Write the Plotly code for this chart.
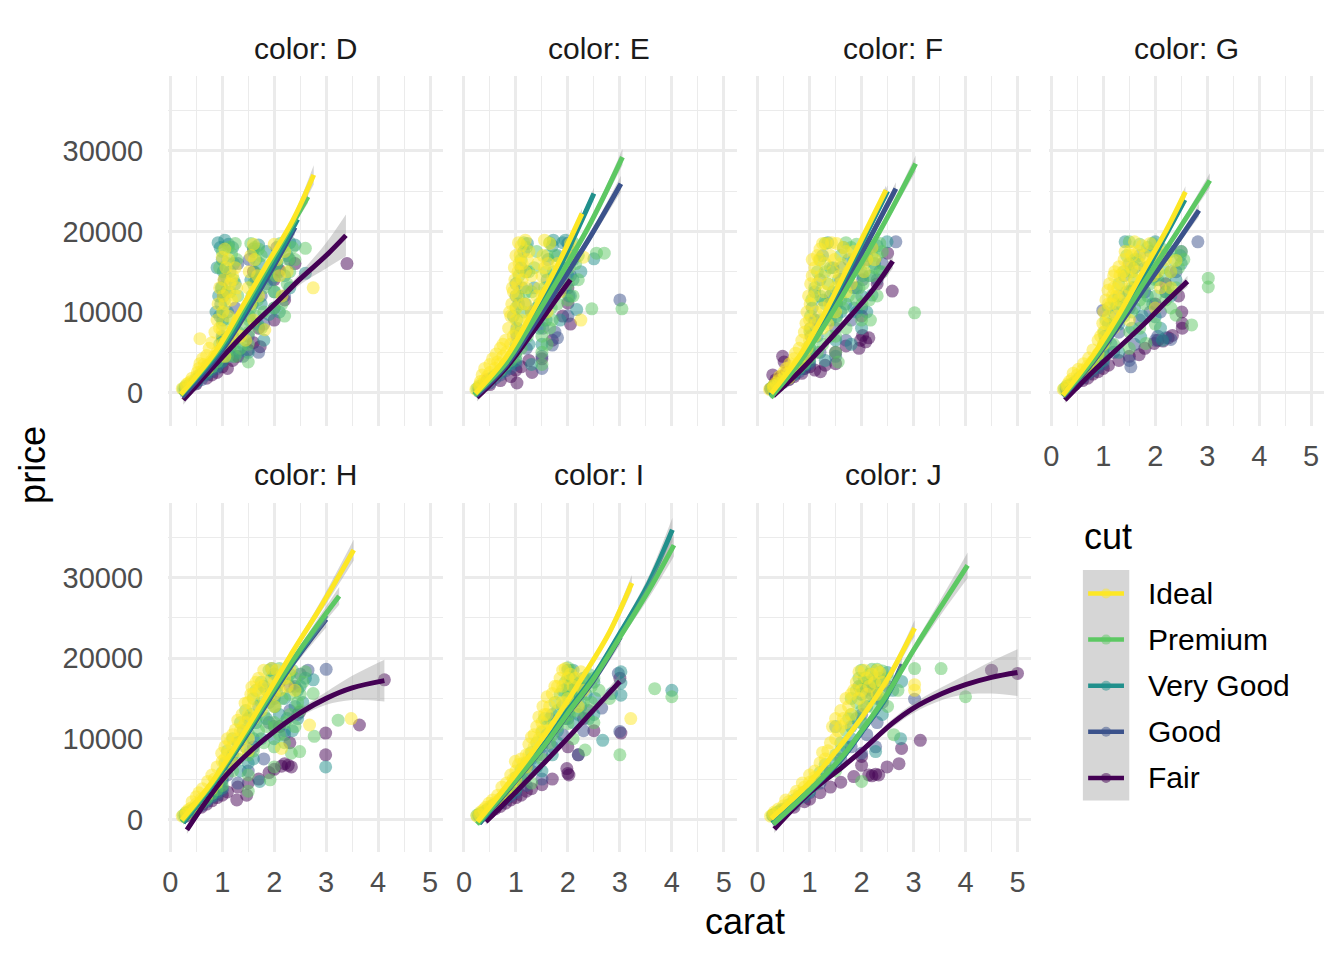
import plotly.graph_objects as go

# ---------------- categories / ticks ----------------
FACETS = ["D", "E", "F", "G", "H", "I", "J"]
CUTS = ["Fair", "Good", "Very Good", "Premium", "Ideal"]
LEGEND_ORDER = ["Ideal", "Premium", "Very Good", "Good", "Fair"]
CUT_COLORS = {"Fair": "#440154", "Good": "#3B528B", "Very Good": "#21908C",
              "Premium": "#5DC863", "Ideal": "#FDE725"}
X_TICKS = [0, 1, 2, 3, 4, 5]
X_MINOR = [0.5, 1.5, 2.5, 3.5, 4.5]
Y_TICKS = [0, 10000, 20000, 30000]
Y_MINOR = [5000, 15000, 25000, 35000]

# ---------------- points: (carat, price in $1000) ----------------
D_Ideal = [(0.23,0.5),(0.3,0.7),(0.31,1.0),(0.35,1.2),(0.4,1.4),(0.42,1.8),(0.5,2.0),(0.52,2.5),(0.55,3.0),(0.57,3.6),(0.57,6.7),(0.6,2.6),(0.62,4.2),(0.7,3.3),(0.7,4.6),(0.72,3.0),(0.75,5.5),(0.8,4.0),(0.8,6.2),(0.86,7.5),(0.9,5.0),(0.9,9.0),(0.92,11.0),(0.95,13.0),(1.0,6.0),(1.0,7.8),(1.01,10.0),(1.02,12.0),(1.03,14.0),(1.05,11.0),(1.07,15.5),(1.1,12.5),(1.12,9.5),(1.15,13.5),(1.18,11.5),(1.2,14.5),(1.22,8.0),(1.25,12.0),(1.0,16.8),(1.05,17.8),(1.5,13.0),(1.52,15.0),(1.55,17.0),(1.6,18.4),(1.55,11.0),(1.6,9.0),(1.82,7.8),(2.0,18.4),(2.05,16.5),(2.1,14.5),(2.2,17.5),(2.75,13.0),
            (1.12,16.5),(1.18,14.0),(1.25,15.5),(0.95,8.0),(1.08,6.5),(1.3,9.0),(1.35,7.0),(1.62,12.5),(1.68,14.5),(0.65,3.5),(0.85,4.5),(1.15,7.0),(2.15,12.0),
            (1.28,13.0),(1.62,16.5),(1.7,12.0),(2.25,15.0),(1.45,6.5),(1.05,4.5)]
D_Premium = [(0.25,0.5),(0.3,0.8),(0.38,1.0),(0.45,1.3),(0.5,1.7),(0.55,2.1),(0.6,2.3),(0.7,2.7),(0.72,3.4),(0.8,3.2),(0.9,3.8),(0.9,4.6),(1.0,4.5),(1.0,5.5),(1.01,6.8),(1.0,8.5),(1.02,10.0),(1.04,11.5),(1.0,13.0),(1.06,14.5),(1.1,16.0),(1.0,17.5),(1.12,18.0),(1.2,6.0),(1.2,9.0),(1.25,4.5),(1.5,3.8),(1.5,6.0),(1.51,7.5),(1.52,9.0),(1.55,10.5),(1.57,12.0),(1.6,13.5),(1.62,15.0),(1.65,16.5),(1.7,17.8),(1.55,18.5),(1.75,8.0),(1.8,10.0),(2.0,10.5),(2.01,12.5),(2.02,14.5),(2.05,16.0),(2.1,17.5),(2.2,18.3),(2.3,15.0),(2.35,18.0),(2.6,17.9),
              (1.15,12.5),(1.22,14.0),(1.28,16.5),(1.18,17.2),(0.95,6.0),(1.1,4.5),(1.3,7.5),(1.35,5.5),(1.65,9.5),(1.68,11.5),(1.72,14.5),(1.62,18.0),(2.15,11.0),(2.25,13.5),(2.28,16.5),(2.12,18.5),
              (1.3,12.0),(1.4,8.5),(1.75,17.0),(1.8,13.0),(1.9,15.0),(2.2,9.5),(2.4,16.5),(1.25,18.5),(0.95,15.5)]
D_VeryGood = [(0.28,0.5),(0.32,0.7),(0.4,0.9),(0.5,1.4),(0.55,1.8),(0.62,2.2),(0.7,2.4),(0.78,2.9),(0.9,3.3),(0.92,18.6),(1.0,3.9),(1.0,5.0),(1.0,7.0),(1.01,9.0),(0.97,11.0),(0.98,13.0),(1.02,15.0),(1.0,16.5),(0.96,18.0),(1.05,18.9),(1.12,18.4),(1.2,18.0),(1.1,10.0),(1.3,5.0),(1.5,5.0),(1.52,9.5),(1.58,11.0),(1.55,14.0),(1.6,17.5),(1.7,18.3),(1.8,6.5),(1.9,9.7),(2.0,12.5),(2.05,16.0),(2.15,18.0),(2.4,18.3),(2.6,14.8),(2.3,13.0),
               (0.9,15.5),(0.93,12.0),(1.08,12.5),(1.15,15.0),(1.22,16.0),(0.88,10.0),(1.65,12.5),(1.72,16.0),(1.68,8.5),(2.1,10.0),(2.2,14.5),(2.25,17.0),(1.2,4.5),(1.4,6.0),
               (1.25,13.5),(1.75,11.0),(1.85,17.5),(2.3,18.6),(1.95,14.0),(0.95,9.5)]
D_Good = [(0.3,0.5),(0.42,0.9),(0.5,1.2),(0.6,1.6),(0.7,2.2),(0.8,2.6),(0.9,3.0),(1.0,3.8),(1.0,6.5),(1.02,12.0),(1.04,14.0),(1.15,5.5),(1.2,7.0),(1.4,4.5),(1.5,7.0),(1.52,16.5),(1.6,17.8),(1.7,5.0),(1.75,12.0),(1.8,8.5),(2.0,10.5),(2.1,15.0),(2.2,12.0),(2.05,18.0),(2.3,16.5),
          (1.3,16.0),(1.85,13.5),(1.25,10.5),(1.65,14.0)]
D_Fair = [(0.3,0.5),(0.5,1.1),(0.7,1.8),(0.8,2.2),(0.9,2.5),(1.0,3.2),(1.0,5.5),(1.1,3.0),(1.2,4.0),(1.3,4.5),(1.5,5.3),(1.6,6.2),(1.73,5.7),(1.7,8.0),(2.0,9.0),(2.0,14.0),(2.1,15.2),(2.4,16.0),(3.4,16.0),(1.6,15.0),(2.2,11.5)]

E_Ideal = [(0.23,0.4),(0.3,0.7),(0.3,1.0),(0.32,1.4),(0.35,2.2),(0.4,1.6),(0.4,3.0),(0.45,2.0),(0.5,2.5),(0.5,3.5),(0.55,4.2),(0.6,3.0),(0.62,4.8),(0.7,3.6),(0.7,5.5),(0.75,4.5),(0.8,6.5),(0.82,5.0),(0.86,8.0),(0.9,6.0),(0.9,9.5),(0.92,11.0),(0.95,12.5),(0.98,14.0),(1.0,7.5),(1.0,9.0),(1.01,10.5),(1.02,12.0),(1.03,13.5),(1.04,15.0),(1.06,16.0),(1.08,17.0),(1.1,18.2),(1.18,18.9),(1.12,14.0),(1.15,11.0),(1.2,13.0),(1.22,16.5),(1.25,9.0),(1.3,10.0),(1.5,12.0),(1.5,14.5),(1.52,17.0),(1.55,18.9),(1.6,10.0),(1.62,16.0),(2.0,17.0),(2.05,18.5),(2.3,16.8),(2.25,9.0),(1.1,7.5),
            (0.88,10.0),(0.93,13.0),(0.97,15.5),(1.0,17.0),(1.05,18.6),(1.12,16.0),(1.18,15.0),(1.2,11.0),(1.1,9.0),(0.95,7.0),(1.45,13.0),(1.55,15.5),(1.6,12.5),(1.48,11.0),(1.7,14.0),(0.65,3.8),(0.75,6.0),
            (1.25,17.5),(1.3,14.5),(1.4,12.0),(1.42,16.0),(1.65,18.5),(1.8,16.0),(1.85,12.5)]
E_Premium = [(0.25,0.5),(0.3,0.8),(0.4,1.2),(0.5,1.6),(0.6,2.2),(0.7,2.8),(0.8,3.5),(0.9,4.0),(1.0,4.5),(1.0,6.0),(1.01,7.5),(1.02,9.0),(1.0,10.5),(1.05,12.0),(1.06,14.5),(1.1,16.5),(1.2,18.0),(1.22,7.0),(1.3,12.5),(1.5,5.0),(1.5,7.0),(1.51,9.0),(1.52,11.0),(1.55,13.0),(1.58,15.0),(1.6,17.0),(1.65,18.6),(1.7,9.0),(1.72,12.5),(2.0,11.5),(2.01,13.5),(2.03,15.5),(2.05,17.5),(2.1,18.6),(2.2,14.0),(2.55,17.3),(2.7,17.3),(2.46,10.4),(3.04,10.4),(1.5,3.5),
              (1.15,10.0),(1.2,12.5),(1.25,15.0),(1.15,18.6),(1.1,5.5),(1.6,6.0),(1.65,8.0),(1.68,10.5),(1.72,15.0),(1.75,17.0),(2.1,12.0),(2.15,16.0),(1.35,9.5),
              (1.35,15.5),(1.4,17.5),(1.45,11.0),(1.8,11.0),(1.85,14.5),(1.95,16.5),(2.2,17.0),(1.28,8.0)]
E_VeryGood = [(0.28,0.5),(0.35,0.9),(0.45,1.3),(0.55,1.9),(0.7,2.5),(0.8,3.0),(0.9,3.6),(1.0,4.0),(1.0,5.5),(1.02,8.0),(1.05,11.0),(1.0,13.5),(1.1,15.5),(1.15,17.5),(1.2,15.0),(1.25,6.0),(1.5,6.0),(1.52,10.0),(1.55,12.0),(1.6,14.0),(1.62,16.5),(1.7,18.2),(1.72,18.9),(1.9,18.6),(1.95,18.9),(2.0,14.5),(1.95,13.0),(2.1,16.5),(2.5,16.6),(2.17,10.3),(1.3,3.5),
               (0.95,9.5),(1.0,12.0),(1.12,13.0),(1.18,11.0),(1.22,18.5),(1.45,8.0),(1.58,9.0),(1.68,12.0),(1.75,14.0),(2.05,12.0),(2.1,14.0),
               (1.35,13.0),(1.4,10.5),(1.8,17.0),(1.85,9.0),(2.25,15.0)]
E_Good = [(0.3,0.5),(0.4,0.9),(0.5,1.2),(0.6,1.8),(0.7,2.2),(0.8,2.7),(0.9,3.0),(1.0,3.5),(1.0,5.0),(1.02,7.0),(1.2,5.5),(1.5,3.0),(1.5,4.5),(1.52,8.0),(1.55,10.5),(1.7,5.9),(1.75,7.5),(2.0,9.5),(2.02,12.0),(2.05,14.5),(2.1,17.0),(2.0,18.5),(3.0,11.5),(1.8,6.8),
          (1.3,10.0),(1.6,12.5),(1.9,15.5)]
E_Fair = [(0.3,0.4),(0.45,1.6),(0.5,1.0),(0.7,1.5),(0.9,2.0),(1.02,1.2),(1.0,2.8),(1.1,3.2),(1.31,2.5),(1.25,4.0),(1.5,4.2),(1.7,6.5),(2.0,11.1),(2.05,8.5),(1.9,9.5),(2.0,13.0)]

F_Ideal = [(0.23,0.4),(0.3,0.6),(0.31,0.9),(0.35,1.2),(0.4,1.5),(0.42,2.0),(0.5,1.8),(0.5,2.5),(0.55,3.0),(0.6,2.5),(0.62,3.6),(0.7,3.0),(0.7,4.2),(0.73,4.9),(0.8,3.8),(0.8,5.5),(0.85,6.5),(0.9,4.5),(0.9,7.5),(0.93,8.6),(0.95,10.0),(0.98,12.0),(1.0,6.5),(1.0,9.0),(1.01,11.0),(1.02,13.5),(1.05,14.5),(1.08,12.0),(1.1,15.5),(1.12,10.0),(1.15,13.5),(1.18,16.5),(1.2,17.8),(1.25,18.5),(1.22,14.5),(1.28,12.5),(1.3,16.0),(1.32,18.5),(1.4,17.0),(1.45,15.0),(1.5,10.0),(1.5,13.0),(1.52,18.5),(1.6,16.0),(1.7,17.5),(2.0,18.0),(2.1,16.5),(1.25,8.0),(1.1,7.0),(0.6,1.8),
           (1.15,17.0),(1.05,16.5),(1.12,8.5),(1.25,10.5),(1.35,13.5),(1.38,11.0),(1.42,18.6),(1.48,16.5),(1.55,12.0),(1.58,14.5),(1.65,18.0),(1.75,15.0),(1.85,17.5),(0.95,5.5),(0.65,3.2),(1.0,7.8),(1.9,16.0),(2.2,18.0),
           (1.6,13.5),(1.7,12.5),(1.95,17.0),(2.05,15.0),(1.35,8.5),(1.8,13.5),(2.25,16.5)]
F_Premium = [(0.25,0.5),(0.3,0.8),(0.4,1.1),(0.5,1.5),(0.6,2.0),(0.7,2.6),(0.8,3.1),(0.9,3.6),(1.0,4.3),(1.0,5.8),(1.01,7.5),(1.02,9.5),(1.04,11.5),(1.1,13.0),(1.15,15.0),(1.2,16.5),(1.3,18.5),(1.25,6.0),(1.2,9.0),(1.3,11.0),(1.5,5.0),(1.5,7.0),(1.51,9.0),(1.52,11.5),(1.55,14.0),(1.6,17.0),(1.7,18.6),(1.7,8.0),(1.75,12.0),(1.8,15.0),(1.9,18.4),(2.0,9.0),(2.01,11.0),(2.03,13.5),(2.05,16.0),(2.1,18.5),(2.2,14.5),(2.17,9.0),(2.3,17.0),(2.3,12.0),(3.02,9.9),(2.4,17.5),(1.55,3.8),
             (1.4,15.5),(1.35,13.5),(1.45,10.0),(1.4,7.0),(1.65,10.5),(1.7,14.0),(1.85,16.5),(1.95,13.0),(2.15,11.5),(2.25,15.5),(2.35,18.5),(1.2,12.0),(1.15,5.0),
             (1.45,12.5),(1.6,11.5),(1.9,11.5),(2.0,15.0),(2.2,17.0),(2.4,15.0),(1.3,15.0),(1.8,18.0)]
F_VeryGood = [(0.28,0.5),(0.35,0.9),(0.45,1.2),(0.55,1.8),(0.7,2.3),(0.8,2.9),(0.9,3.4),(1.0,3.9),(1.0,5.5),(1.02,8.0),(1.05,10.5),(1.1,12.5),(1.2,14.0),(1.25,17.0),(1.35,18.6),(1.5,6.5),(1.52,9.5),(1.55,12.5),(1.6,15.5),(1.65,18.0),(1.8,6.0),(1.9,10.0),(2.0,12.0),(2.02,14.5),(2.1,17.0),(2.2,12.1),(2.3,18.2),(2.49,18.7),(2.0,8.0),(1.3,4.0),
              (1.4,9.0),(1.45,15.5),(1.7,11.0),(1.75,16.5),(1.85,13.0),(2.1,10.0),(2.15,14.5),(2.25,16.0),(1.15,7.0),(1.25,11.5),
              (1.6,10.0),(1.95,16.0),(2.35,15.0),(1.4,12.0),(1.85,10.5)]
F_Good = [(0.3,0.5),(0.4,0.9),(0.5,1.3),(0.6,1.7),(0.7,2.2),(0.8,2.6),(0.9,3.0),(1.0,3.6),(1.0,5.0),(1.03,7.0),(1.1,9.0),(1.2,5.0),(1.5,4.5),(1.5,8.0),(1.52,11.0),(1.6,14.0),(1.7,6.5),(1.8,9.0),(2.0,10.5),(2.02,14.0),(2.1,16.5),(2.2,18.0),(2.66,18.7),(2.3,14.0),
          (1.4,11.0),(1.9,13.0),(2.4,16.0)]
F_Fair = [(0.25,0.5),(0.29,2.2),(0.33,1.0),(0.35,1.6),(0.4,1.2),(0.45,2.0),(0.48,4.5),(0.51,3.8),(0.55,2.5),(0.6,1.6),(0.7,2.0),(0.75,2.8),(0.85,2.4),(0.9,3.0),(1.0,3.2),(1.1,2.8),(1.21,2.6),(1.3,3.4),(1.5,3.6),(1.5,5.0),(1.7,5.8),(1.95,5.5),(1.98,6.5),(2.02,7.1),(2.08,6.3),(2.14,6.8),(2.0,9.5),(2.5,17.3),(2.59,12.6),(2.3,13.5)]

G_Ideal = [(0.23,0.4),(0.3,0.7),(0.31,1.0),(0.35,1.4),(0.4,1.7),(0.42,2.4),(0.5,2.2),(0.52,2.9),(0.6,2.8),(0.62,3.6),(0.7,3.3),(0.72,4.3),(0.8,3.9),(0.8,5.3),(0.9,4.8),(0.9,6.5),(0.99,8.6),(1.0,6.0),(1.0,7.5),(1.01,10.0),(1.05,11.5),(1.09,12.7),(1.1,9.5),(1.15,11.0),(1.2,13.0),(1.2,14.5),(1.25,12.0),(1.3,15.6),(1.3,10.5),(1.35,13.5),(1.4,16.5),(1.4,12.0),(1.45,14.5),(1.5,11.0),(1.5,13.0),(1.52,17.5),(1.55,15.5),(1.6,18.7),(1.6,12.5),(1.7,16.0),(1.75,18.2),(1.8,14.0),(2.0,17.0),(2.05,15.0),(2.2,16.5),(2.4,16.4),(2.3,13.0),(1.2,8.0),(1.5,9.0),(2.0,10.5),
           (1.12,13.5),(1.18,12.0),(1.22,15.0),(1.28,13.0),(1.32,14.5),(1.38,15.0),(1.42,17.5),(1.48,16.0),(1.55,17.0),(1.65,15.0),(1.68,17.5),(1.85,16.5),(1.9,18.5),(1.1,11.0),(0.95,7.0),(1.05,8.5),(1.25,9.5),(2.1,17.5),
           (1.3,11.5),(1.6,14.0),(1.95,14.5),(2.1,13.0),(2.3,15.0),(1.8,17.0)]
G_Premium = [(0.25,0.5),(0.3,0.8),(0.4,1.1),(0.5,1.6),(0.6,2.1),(0.7,2.7),(0.8,3.3),(0.9,3.9),(1.0,4.5),(1.0,5.8),(1.02,7.5),(1.05,9.0),(1.1,10.5),(1.2,6.0),(1.2,8.5),(1.25,11.0),(1.3,13.5),(1.4,15.0),(1.45,17.0),(1.5,18.7),(1.5,5.5),(1.51,7.5),(1.55,10.0),(1.6,14.0),(1.65,16.5),(1.7,8.0),(1.7,18.4),(1.8,11.0),(1.82,6.1),(1.9,13.5),(1.95,18.5),(2.0,8.5),(2.01,12.0),(2.05,16.0),(2.1,18.0),(2.2,14.5),(2.3,17.5),(2.4,9.6),(2.45,15.5),(2.55,16.5),(2.7,8.4),(3.02,14.2),(3.02,13.1),(2.3,10.5),
             (1.35,11.0),(1.45,12.5),(1.55,13.0),(1.6,16.5),(1.75,12.5),(1.85,15.5),(1.95,16.0),(2.15,15.5),(2.25,13.0),(2.35,16.5),(1.2,11.5),(1.4,9.5),
             (1.55,15.0),(1.7,11.5),(2.0,14.0),(2.2,11.5),(2.4,13.0),(2.5,17.5),(1.85,18.0)]
G_VeryGood = [(0.28,0.5),(0.35,0.9),(0.45,1.3),(0.55,1.9),(0.7,2.5),(0.8,3.0),(0.9,3.5),(1.0,4.0),(1.0,5.2),(1.03,7.0),(1.1,8.5),(1.2,10.0),(1.3,12.0),(1.4,14.5),(1.42,18.7),(1.5,16.0),(1.55,8.0),(1.6,10.5),(1.72,6.9),(1.8,15.5),(1.9,17.5),(2.0,18.7),(2.0,9.4),(2.1,8.0),(2.14,6.5),(2.2,12.5),(2.3,15.0),(2.48,17.0),(2.5,16.0),(1.3,5.0),
              (1.3,8.5),(1.45,11.0),(1.6,13.0),(1.7,17.0),(1.85,12.0),(2.05,14.0),(2.15,17.0),(2.3,12.0),(1.15,6.0),
              (1.6,15.5),(1.75,9.5),(1.95,11.0),(2.4,14.0),(1.5,12.5)]
G_Good = [(0.3,0.5),(0.4,0.9),(0.5,1.3),(0.6,1.8),(0.7,2.3),(0.8,2.7),(0.9,3.1),(0.99,10.2),(1.0,3.6),(1.0,4.8),(1.05,6.5),(1.2,5.0),(1.3,7.5),(1.5,4.0),(1.53,3.2),(1.6,6.0),(1.7,9.0),(1.8,12.5),(2.0,6.5),(2.05,7.0),(2.1,10.0),(2.2,6.8),(2.3,6.6),(2.4,15.0),(2.5,17.5),(2.82,18.7),(2.0,14.5),
          (1.5,10.5),(1.9,10.0),(2.2,12.5)]
G_Fair = [(0.3,0.4),(0.45,1.0),(0.6,1.5),(0.7,1.8),(0.8,2.3),(0.9,2.6),(1.0,3.0),(1.1,3.4),(1.3,4.0),(1.5,4.5),(1.69,4.7),(1.8,5.5),(1.98,6.1),(2.05,6.5),(2.15,6.4),(2.25,6.8),(2.33,7.1),(2.51,10.0),(2.52,8.6),(2.52,8.0),(2.45,12.0),(2.0,11.0),(2.2,13.5)]

H_Ideal = [(0.23,0.4),(0.3,0.6),(0.31,0.9),(0.35,1.2),(0.4,1.4),(0.42,2.2),(0.5,1.9),(0.5,2.8),(0.55,3.3),(0.6,2.5),(0.62,3.8),(0.7,3.0),(0.72,4.7),(0.8,3.8),(0.8,5.5),(0.9,4.5),(0.9,6.5),(0.99,8.2),(1.0,5.5),(1.0,7.2),(1.05,9.0),(1.1,8.0),(1.1,10.0),(1.2,9.0),(1.25,11.1),(1.3,10.0),(1.3,12.3),(1.4,11.5),(1.44,14.4),(1.5,10.0),(1.5,13.0),(1.55,15.5),(1.57,16.4),(1.6,14.0),(1.7,16.0),(1.7,17.5),(1.8,18.5),(1.8,15.0),(2.0,17.0),(2.0,14.0),(2.05,18.5),(2.1,16.0),(2.2,17.5),(2.14,8.8),(2.68,11.7),(3.48,12.5),(1.2,7.0),(1.5,8.5),
           (1.15,9.5),(1.2,10.5),(1.35,11.0),(1.38,13.0),(1.45,12.0),(1.5,14.5),(1.6,15.5),(1.65,17.0),(1.75,16.5),(1.85,17.0),(1.9,15.5),(1.95,18.7),(2.15,18.0),(2.25,16.5),(1.05,7.5),(0.85,5.0),(1.3,8.5),
           (1.6,12.5),(1.75,13.5),(2.3,18.5),(2.4,16.0),(2.0,15.5),(1.35,9.5)]
H_Premium = [(0.25,0.5),(0.3,0.8),(0.4,1.1),(0.5,1.5),(0.6,2.0),(0.7,2.6),(0.8,3.2),(0.9,3.7),(1.0,4.2),(1.0,5.8),(1.05,7.0),(1.1,8.5),(1.2,6.0),(1.2,10.0),(1.3,7.5),(1.35,12.0),(1.5,5.5),(1.5,8.0),(1.51,10.5),(1.55,13.0),(1.6,15.0),(1.7,11.0),(1.75,17.0),(1.8,13.0),(1.9,18.5),(1.92,4.9),(2.0,6.5),(2.0,9.0),(2.01,11.5),(2.02,14.0),(2.05,16.5),(2.1,18.7),(2.2,12.0),(2.3,15.5),(2.33,8.2),(2.49,8.4),(2.4,17.5),(2.5,13.5),(2.75,15.6),(2.77,10.3),(3.23,12.3),(1.5,3.5),
             (1.4,10.0),(1.45,13.5),(1.65,12.5),(1.75,14.5),(1.85,16.0),(1.95,17.5),(2.15,15.0),(2.25,17.5),(2.35,18.5),(2.45,14.5),(2.55,17.0),(1.6,8.5),(1.8,9.5),(2.1,10.5),(2.4,11.5),
             (1.65,16.0),(1.9,15.0),(2.0,12.0),(2.3,13.0),(2.5,15.5),(2.6,18.3),(2.2,9.5),(1.85,11.5)]
H_VeryGood = [(0.28,0.5),(0.35,0.9),(0.45,1.3),(0.55,1.8),(0.7,2.4),(0.8,2.9),(0.9,3.4),(1.0,3.9),(1.0,5.0),(1.1,6.5),(1.2,8.0),(1.3,9.5),(1.4,11.0),(1.5,12.5),(1.5,7.0),(1.6,10.0),(1.72,4.7),(1.7,14.0),(1.8,16.5),(1.95,18.7),(2.0,18.0),(2.0,10.0),(2.1,13.0),(2.2,15.0),(2.3,18.0),(2.35,11.0),(2.45,16.0),(2.6,17.5),(2.75,17.3),(2.99,6.5),
              (1.45,9.0),(1.65,12.0),(1.75,10.0),(1.9,14.5),(2.05,16.0),(2.15,17.5),(2.25,12.5),(2.4,14.0),(2.5,16.5),(1.35,6.0),
              (1.85,12.5),(2.2,11.0),(2.45,12.5),(2.55,14.5),(2.0,14.0),(1.6,7.5)]
H_Good = [(0.3,0.5),(0.4,0.9),(0.5,1.3),(0.6,1.7),(0.7,2.2),(0.8,2.7),(0.9,3.0),(1.0,3.6),(1.0,4.8),(1.1,5.5),(1.2,7.0),(1.3,4.5),(1.5,6.0),(1.6,9.0),(1.8,7.5),(1.9,12.0),(2.0,15.0),(2.1,17.0),(2.2,10.5),(2.3,13.5),(2.4,16.5),(2.5,18.0),(2.65,18.5),(3.0,18.6),
          (2.0,11.5),(2.3,16.5),(2.45,13.0)]
H_Fair = [(0.3,0.4),(0.45,1.0),(0.6,1.5),(0.7,1.9),(0.8,2.3),(0.9,2.7),(1.0,3.0),(1.1,3.4),(1.28,2.4),(1.3,4.0),(1.47,3.0),(1.5,4.5),(1.7,5.0),(1.9,5.8),(2.0,6.2),(2.14,6.6),(2.2,6.9),(2.27,6.7),(2.33,6.5),(2.49,13.3),(2.99,10.7),(2.99,8.0),(3.64,11.7),(4.12,17.3),(2.3,9.5),(2.1,11.5)]

I_Ideal = [(0.25,0.4),(0.3,0.6),(0.32,0.9),(0.38,1.2),(0.42,1.5),(0.48,2.0),(0.5,1.6),(0.55,2.4),(0.6,2.1),(0.65,3.0),(0.7,2.6),(0.73,4.0),(0.8,3.3),(0.82,4.5),(0.9,4.0),(0.9,5.5),(0.99,7.2),(1.0,4.8),(1.0,6.0),(1.05,6.8),(1.1,7.5),(1.2,8.0),(1.25,9.3),(1.3,10.2),(1.35,9.0),(1.44,12.7),(1.5,11.0),(1.5,12.0),(1.52,14.0),(1.6,15.2),(1.6,13.0),(1.7,15.6),(1.8,16.5),(1.9,18.5),(2.0,17.5),(2.0,15.0),(2.1,16.5),(2.2,14.0),(2.3,16.0),(3.21,12.5),(1.2,6.5),(1.7,11.5),
           (1.35,10.5),(1.4,11.5),(1.45,10.0),(1.55,13.0),(1.65,14.0),(1.75,16.5),(1.85,17.5),(1.95,18.7),(2.05,18.0),(1.15,7.0),(0.95,5.0),(1.6,11.0),(1.9,14.5),
           (1.8,14.5),(1.9,16.5),(2.15,17.5),(1.25,8.0),(1.55,10.0),(2.25,18.3)]
I_Premium = [(0.25,0.5),(0.3,0.7),(0.4,1.0),(0.5,1.4),(0.6,1.9),(0.7,2.4),(0.8,3.0),(0.9,3.5),(1.0,4.0),(1.0,5.2),(1.1,6.2),(1.2,7.0),(1.3,8.3),(1.4,9.5),(1.5,10.8),(1.5,7.5),(1.55,12.5),(1.7,10.5),(1.8,13.5),(1.9,16.0),(2.0,18.8),(2.0,17.5),(2.01,16.0),(2.02,14.5),(2.03,13.0),(2.0,11.9),(2.05,18.5),(2.1,10.0),(2.2,17.0),(2.3,14.5),(2.33,8.6),(2.4,18.0),(2.5,12.0),(2.6,16.0),(2.8,15.0),(3.0,8.0),(3.67,16.2),(4.0,15.2),(1.3,4.5),
             (1.6,12.0),(1.75,14.5),(1.85,15.5),(1.95,17.0),(2.0,15.2),(2.1,17.5),(2.15,13.5),(2.25,15.5),(2.35,17.5),(2.45,16.5),(1.4,8.0),(1.2,5.5),(2.0,13.8),(2.07,16.8),
             (1.8,11.5),(1.9,12.5),(2.15,16.0),(2.3,16.5),(2.35,13.0),(2.45,14.5),(2.5,17.5),(1.65,9.5)]
I_VeryGood = [(0.28,0.5),(0.35,0.8),(0.45,1.2),(0.55,1.7),(0.7,2.2),(0.8,2.7),(0.9,3.2),(1.0,3.7),(1.0,4.6),(1.1,5.5),(1.2,6.5),(1.3,7.5),(1.5,9.0),(1.5,6.0),(1.6,10.5),(1.7,8.0),(1.8,11.0),(1.9,14.0),(2.0,18.5),(2.0,16.5),(2.02,13.5),(2.1,12.0),(2.2,15.5),(2.3,17.5),(2.52,15.0),(2.5,13.0),(2.67,9.8),(2.84,15.6),(3.02,18.3),(3.02,16.9),(3.02,15.4),(4.0,16.0),
              (1.65,12.5),(1.8,9.5),(1.95,12.5),(2.05,17.5),(2.1,15.0),(2.2,13.0),(2.35,15.5),(1.4,6.5),
              (1.7,13.0),(2.1,18.5),(2.25,14.0),(2.4,12.5),(2.5,17.0)]
I_Good = [(0.3,0.5),(0.4,0.8),(0.5,1.2),(0.6,1.6),(0.7,2.0),(0.8,2.5),(0.9,2.9),(1.0,3.3),(1.0,4.3),(1.1,5.0),(1.2,4.2),(1.3,6.0),(1.5,5.0),(1.5,8.0),(1.7,9.0),(1.9,10.5),(2.0,12.5),(2.1,14.5),(2.2,8.0),(2.3,11.0),(2.65,13.8),(2.97,18.1),(3.0,10.9),
          (1.8,12.0),(2.2,16.5),(2.4,13.5)]
I_Fair = [(0.35,0.5),(0.5,0.9),(0.6,1.3),(0.7,1.6),(0.8,2.0),(0.9,2.4),(1.0,2.7),(1.1,3.0),(1.2,3.5),(1.3,3.8),(1.5,4.3),(1.7,5.0),(1.98,6.3),(2.0,5.7),(2.02,5.5),(2.2,8.0),(2.0,9.0),(2.5,11.0),(3.02,10.7),(3.0,17.5),(2.3,12.5)]

J_Ideal = [(0.25,0.4),(0.3,0.6),(0.32,0.9),(0.4,1.3),(0.5,1.7),(0.54,2.4),(0.6,2.2),(0.7,2.9),(0.75,3.5),(0.8,3.2),(0.86,4.5),(0.9,4.0),(1.0,4.6),(1.0,5.5),(1.1,6.0),(1.2,7.0),(1.25,8.3),(1.3,7.5),(1.4,9.5),(1.44,11.5),(1.5,10.0),(1.5,12.5),(1.6,13.5),(1.7,12.0),(1.8,15.5),(1.9,17.0),(1.95,18.3),(2.0,16.0),(2.05,14.0),(2.1,17.5),(2.2,18.0),(2.3,15.5),(2.4,17.0),(3.02,16.7),(3.02,16.0),
           (1.55,11.0),(1.65,12.5),(1.75,14.0),(1.85,16.0),(2.05,18.5),(2.15,16.5),(2.25,17.0),(1.35,8.5),(1.1,5.2),(2.35,18.2),(1.95,15.0),
           (1.7,15.0),(1.8,13.0),(2.1,15.5),(2.3,18.5),(1.6,11.5)]
J_Premium = [(0.28,0.5),(0.35,0.8),(0.45,1.2),(0.6,1.8),(0.7,2.4),(0.8,2.9),(0.9,3.4),(1.0,3.9),(1.1,4.8),(1.2,5.8),(1.3,6.8),(1.5,8.0),(1.5,6.0),(1.6,9.5),(1.7,11.0),(1.8,13.0),(1.9,14.5),(2.0,4.7),(2.0,16.5),(2.0,18.5),(2.05,17.5),(2.1,15.0),(2.2,18.6),(2.3,16.5),(2.4,18.4),(2.5,14.0),(2.62,10.5),(2.7,16.0),(3.02,18.7),(3.53,18.7),(4.0,15.2),
             (2.1,17.0),(2.15,18.0),(2.25,17.5),(2.35,17.0),(2.45,16.0),(1.9,16.0),(1.75,12.5),(2.2,14.0),(2.0,13.5),
             (1.8,15.0),(1.95,17.5),(2.25,16.0),(2.4,15.0),(2.5,17.5),(2.3,18.6),(2.0,12.0)]
J_VeryGood = [(0.3,0.5),(0.4,0.9),(0.5,1.3),(0.7,2.0),(0.8,2.6),(0.9,3.1),(1.0,3.5),(1.1,4.3),(1.2,5.0),(1.3,5.8),(1.5,11.5),(1.5,7.0),(1.6,8.5),(1.8,10.0),(2.0,12.0),(2.1,14.0),(2.2,17.0),(2.27,8.4),(2.4,13.0),(2.6,16.0),(2.75,10.0),(2.77,17.1),(2.5,18.2),
              (1.9,12.5),(2.0,15.5),(2.1,16.5),(2.3,15.0),(1.7,9.0),
              (1.95,16.5),(2.2,15.5),(2.35,17.5),(1.8,11.5)]
J_Good = [(0.3,0.5),(0.5,1.1),(0.7,1.9),(0.9,2.8),(1.0,3.3),(1.2,4.5),(1.4,6.0),(1.6,7.5),(1.8,9.0),(2.0,8.2),(2.1,10.5),(2.27,9.0),(2.4,14.5),(2.5,16.5),(3.02,14.9),(2.3,12.0),
          (2.2,16.0),(2.0,13.0)]
J_Fair = [(0.35,0.5),(0.5,0.9),(0.7,1.5),(0.9,2.2),(1.0,2.5),(1.2,3.3),(1.4,4.0),(1.6,4.6),(1.85,5.3),(2.0,6.7),(2.14,5.5),(2.2,5.4),(2.27,5.6),(2.33,5.5),(2.49,6.5),(2.72,6.9),(2.77,8.8),(3.13,9.8),(4.5,18.5),(5.0,18.1),(2.0,7.8)]

# ---------------- smooth fits: (carat, fitted price $1000, ribbon half-width $1000) ----------------
D_Ideal_fit = [(0.2,-0.2,0.3),(0.86,5.0,0.1),(1.37,10.5,0.1),(1.82,15.5,0.2),(2.36,21.4,0.5),(2.76,27.0,1.2)]
D_Premium_fit = [(0.2,-0.3,0.3),(1.0,6.0,0.1),(1.5,11.5,0.15),(2.0,17.0,0.3),(2.65,24.3,0.8)]
D_VeryGood_fit = [(0.2,-0.3,0.3),(1.0,5.6,0.1),(1.5,10.8,0.2),(2.0,16.3,0.3),(2.45,21.5,0.7)]
D_Good_fit = [(0.23,-0.5,0.4),(1.0,5.3,0.2),(1.5,10.3,0.3),(2.0,15.8,0.4),(2.4,20.5,0.9)]
D_Fair_fit = [(0.25,-0.9,0.6),(1.0,4.4,0.3),(1.5,7.8,0.3),(2.0,10.9,0.4),(2.5,14.1,0.7),(3.0,17.0,1.6),(3.38,19.5,2.6)]

E_Ideal_fit = [(0.22,-0.1,0.2),(0.8,4.3,0.1),(1.3,9.8,0.1),(1.8,15.8,0.3),(2.27,22.2,0.6)]
E_Premium_fit = [(0.2,-0.3,0.2),(0.8,3.6,0.1),(1.3,8.6,0.1),(1.8,13.9,0.2),(2.4,20.6,0.4),(3.05,29.2,1.0)]
E_VeryGood_fit = [(0.2,-0.3,0.2),(0.8,3.9,0.1),(1.3,9.2,0.1),(1.8,15.0,0.3),(2.5,24.7,0.7)]
E_Good_fit = [(0.23,-0.4,0.3),(0.8,3.3,0.1),(1.3,8.0,0.2),(1.8,12.9,0.3),(2.4,19.0,0.5),(3.02,25.9,1.0)]
E_Fair_fit = [(0.25,-0.6,0.5),(0.8,3.0,0.3),(1.3,7.3,0.4),(1.8,11.8,0.6),(2.05,14.0,0.9)]

F_Ideal_fit = [(0.26,-0.1,0.2),(0.8,4.5,0.1),(1.3,10.0,0.1),(1.8,16.4,0.2),(2.47,25.1,0.6)]
F_Premium_fit = [(0.25,-0.6,0.2),(0.8,3.7,0.1),(1.3,8.5,0.1),(1.8,13.9,0.2),(2.4,20.6,0.4),(3.04,28.4,1.0)]
F_VeryGood_fit = [(0.25,-0.3,0.2),(0.8,4.2,0.1),(1.3,9.6,0.1),(1.8,15.9,0.3),(2.5,25.0,0.7)]
F_Good_fit = [(0.25,-0.4,0.3),(0.8,3.8,0.1),(1.3,8.9,0.2),(1.8,14.8,0.3),(2.66,25.3,0.8)]
F_Fair_fit = [(0.3,-0.4,0.4),(0.8,2.6,0.2),(1.3,6.0,0.3),(1.8,9.6,0.4),(2.2,12.6,0.5),(2.6,16.3,0.9)]

G_Ideal_fit = [(0.22,-0.3,0.2),(0.8,4.6,0.1),(1.31,9.8,0.1),(1.76,15.0,0.2),(2.2,20.0,0.4),(2.58,24.9,0.7)]
G_Premium_fit = [(0.22,-0.4,0.2),(0.8,4.0,0.1),(1.3,8.7,0.1),(1.8,13.8,0.2),(2.4,19.7,0.4),(3.05,26.3,0.9)]
G_VeryGood_fit = [(0.22,-0.3,0.2),(0.8,4.3,0.1),(1.3,9.3,0.1),(1.8,14.8,0.3),(2.57,23.9,0.6)]
G_Good_fit = [(0.23,-0.5,0.3),(0.8,3.8,0.1),(1.3,8.3,0.2),(1.8,13.0,0.3),(2.3,17.5,0.4),(2.84,22.6,0.8)]
G_Fair_fit = [(0.26,-0.9,0.4),(0.8,2.6,0.2),(1.3,5.6,0.2),(1.8,8.6,0.3),(2.2,11.2,0.4),(2.62,13.8,0.7)]

H_Ideal_fit = [(0.22,-0.1,0.2),(0.8,4.6,0.1),(1.3,9.5,0.1),(1.8,14.8,0.2),(2.3,20.2,0.4),(2.9,26.4,0.7),(3.53,33.4,1.3)]
H_Premium_fit = [(0.22,-0.3,0.2),(0.8,4.4,0.1),(1.3,9.2,0.1),(1.8,14.3,0.2),(2.3,19.2,0.4),(2.8,23.8,0.7),(3.25,27.7,1.1)]
H_VeryGood_fit = [(0.25,-0.4,0.2),(0.8,4.2,0.1),(1.3,8.9,0.1),(1.8,14.0,0.2),(2.3,19.0,0.4),(3.0,25.3,0.8)]
H_Good_fit = [(0.25,-0.4,0.3),(0.8,4.2,0.1),(1.3,8.8,0.2),(1.8,13.8,0.3),(2.3,18.8,0.5),(3.0,24.8,1.0)]
H_Fair_fit = [(0.32,-1.3,0.5),(1.0,4.9,0.3),(1.5,8.2,0.3),(2.0,10.9,0.3),(2.5,13.2,0.5),(3.0,15.0,0.8),(3.5,16.3,1.5),(4.12,17.2,2.6)]

I_Ideal_fit = [(0.26,-0.3,0.2),(0.8,4.0,0.1),(1.3,8.2,0.1),(1.8,12.8,0.2),(2.3,17.8,0.3),(2.8,23.2,0.6),(3.23,29.3,1.0)]
I_Premium_fit = [(0.25,-0.6,0.2),(1.0,4.9,0.1),(1.6,9.6,0.1),(2.0,13.2,0.2),(2.5,17.5,0.3),(3.04,23.0,0.5),(3.55,28.3,0.9),(4.04,34.0,1.4)]
I_VeryGood_fit = [(0.29,-0.5,0.2),(1.0,5.0,0.1),(1.6,9.8,0.1),(2.0,13.5,0.2),(2.5,17.8,0.3),(3.04,23.5,0.5),(3.55,29.2,0.9),(4.01,35.9,1.5)]
I_Good_fit = [(0.3,-0.5,0.3),(1.0,4.8,0.2),(1.6,9.5,0.2),(2.0,13.1,0.3),(2.5,17.3,0.5),(3.01,22.6,0.9)]
I_Fair_fit = [(0.42,-0.3,0.4),(1.0,3.4,0.3),(1.5,6.7,0.3),(2.0,10.1,0.4),(2.5,13.6,0.5),(3.0,17.1,0.9)]

J_Ideal_fit = [(0.26,0.1,0.2),(1.0,4.6,0.1),(1.5,8.4,0.2),(2.0,12.6,0.3),(2.5,17.4,0.5),(3.02,23.7,1.0)]
J_Premium_fit = [(0.3,-0.6,0.3),(1.0,3.6,0.2),(1.63,7.8,0.2),(2.0,11.0,0.3),(2.46,15.2,0.4),(3.04,21.4,0.6),(3.55,26.6,1.0),(4.04,31.5,1.6)]
J_VeryGood_fit = [(0.28,-0.5,0.3),(1.0,3.6,0.2),(1.63,7.7,0.3),(2.0,10.9,0.4),(2.46,15.0,0.6),(2.75,18.5,0.9)]
J_Good_fit = [(0.3,-0.6,0.3),(1.0,3.5,0.2),(1.63,7.6,0.3),(2.0,10.8,0.4),(2.46,15.0,0.6),(2.78,19.2,1.0)]
J_Fair_fit = [(0.32,-1.2,0.5),(1.0,3.3,0.3),(1.63,6.5,0.3),(2.0,8.5,0.3),(2.59,11.9,0.5),(3.0,13.8,0.6),(3.55,15.6,0.8),(4.0,16.7,1.2),(4.5,17.6,2.0),(5.0,18.2,2.9)]

# ---------------- layout constants ----------------
W, H = 1344, 960
COL_LEFT = [162.9, 457.9, 752.9, 1047.9]
PANEL_W = 276.2
ROW_TOP = [76.0, 502.7]
STRIP_Y = [48, 475]
PANEL_H = 349.5
X_RANGE = [-0.0405, 5.2505]
Y_RANGE = [-4070, 39260]
FONT = "Liberation Sans, Arial, Helvetica, sans-serif"
GRID = "#EBEBEB"


def rgba(hexc, a):
    h = hexc.lstrip("#")
    return "rgba(%d,%d,%d,%s)" % (int(h[0:2], 16), int(h[2:4], 16), int(h[4:6], 16), a)


def name(f, c):
    return f + "_" + c.replace(" ", "")


G = globals()
fig = go.Figure()
layout = dict(width=W, height=H, margin=dict(l=0, r=0, t=0, b=0),
              paper_bgcolor="white", plot_bgcolor="white", showlegend=False,
              font=dict(family=FONT))
annotations = []
shapes = []

for i, f in enumerate(FACETS):
    r, c = divmod(i, 4)
    n = i + 1
    xs = "" if n == 1 else str(n)
    xref, yref = "x" + xs, "y" + xs
    left = COL_LEFT[c]
    top = ROW_TOP[r]
    xdom = [left / W, (left + PANEL_W) / W]
    ydom = [(H - top - PANEL_H) / H, (H - top) / H]
    show_x = (r == 1) or (f == "G")
    show_y = (c == 0)
    layout["xaxis" + xs] = dict(
        domain=xdom, range=X_RANGE, anchor=yref, tickvals=X_TICKS,
        ticktext=[str(v) for v in X_TICKS], showticklabels=show_x,
        ticks="", ticklabelstandoff=10, showgrid=True, gridcolor=GRID, gridwidth=2.6,
        zeroline=False, showline=False,
        minor=dict(tickvals=X_MINOR, showgrid=True, gridcolor=GRID, gridwidth=1.4),
        tickfont=dict(size=29, color="#4D4D4D", family=FONT))
    layout["yaxis" + xs] = dict(
        domain=ydom, range=Y_RANGE, anchor=xref, tickvals=Y_TICKS,
        ticktext=[str(v) for v in Y_TICKS], showticklabels=show_y,
        ticks="", ticklabelstandoff=24, showgrid=True, gridcolor=GRID, gridwidth=2.6,
        zeroline=False, showline=False,
        minor=dict(tickvals=Y_MINOR, showgrid=True, gridcolor=GRID, gridwidth=1.4),
        tickfont=dict(size=29, color="#4D4D4D", family=FONT))

    # points
    for cut in CUTS:
        pts = G[name(f, cut)]
        fig.add_trace(go.Scatter(
            x=[p[0] for p in pts], y=[p[1] * 1000 for p in pts], mode="markers",
            xaxis=xref, yaxis=yref, hoverinfo="skip",
            marker=dict(size=13, color=CUT_COLORS[cut], opacity=0.5, line=dict(width=0))))
    # smooths: ribbon + line for each group
    for cut in CUTS:
        fit = G[name(f, cut) + "_fit"]
        fx = [p[0] for p in fit]
        fy = [p[1] * 1000 for p in fit]
        lo = [(p[1] - p[2]) * 1000 for p in fit]
        hi = [(p[1] + p[2]) * 1000 for p in fit]
        fig.add_trace(go.Scatter(x=fx, y=lo, mode="lines", xaxis=xref, yaxis=yref,
                                 line=dict(width=0, shape="spline"), hoverinfo="skip"))
        fig.add_trace(go.Scatter(x=fx, y=hi, mode="lines", xaxis=xref, yaxis=yref,
                                 line=dict(width=0, shape="spline"), fill="tonexty",
                                 fillcolor="rgba(153,153,153,0.4)", hoverinfo="skip"))
        fig.add_trace(go.Scatter(x=fx, y=fy, mode="lines", xaxis=xref, yaxis=yref,
                                 line=dict(width=5, color=CUT_COLORS[cut], shape="spline"),
                                 hoverinfo="skip"))
    # strip label
    annotations.append(dict(text="color: " + f, x=(left + PANEL_W / 2) / W, y=(H - STRIP_Y[r]) / H,
                            xref="paper", yref="paper", showarrow=False, xanchor="center",
                            yanchor="middle", font=dict(size=30, color="#1A1A1A", family=FONT)))

# axis titles
annotations.append(dict(text="carat", x=742 / W, y=(H - 921) / H, xref="paper", yref="paper",
                        showarrow=False, xanchor="center", yanchor="middle",
                        font=dict(size=36, color="black", family=FONT)))
annotations.append(dict(text="price", x=26 / W, y=(H - 465) / H, xref="paper", yref="paper",
                        showarrow=False, xanchor="center", yanchor="middle", textangle=-90,
                        font=dict(size=36, color="black", family=FONT)))

# legend (manual, like ggplot's guide)
annotations.append(dict(text="cut", x=1081 / W, y=(H - 536) / H, xref="paper", yref="paper",
                        showarrow=False, xanchor="left", yanchor="middle",
                        font=dict(size=36, color="black", family=FONT)))
shapes.append(dict(type="rect", xref="paper", yref="paper", x0=1081.7 / W, x1=1128.3 / W,
                   y0=(H - 800.5) / H, y1=(H - 570) / H, fillcolor="rgb(214,214,214)",
                   line=dict(width=0), layer="above"))
for k, cut in enumerate(LEGEND_ORDER):
    cy = 593.5 + k * 46.1
    yy = (H - cy) / H
    shapes.append(dict(type="line", xref="paper", yref="paper", x0=1087 / W, x1=1123 / W,
                       y0=yy, y1=yy, line=dict(color=CUT_COLORS[cut], width=4.5), layer="above"))
    shapes.append(dict(type="circle", xref="paper", yref="paper", x0=1100 / W, x1=1110 / W,
                       y0=(H - cy - 5) / H, y1=(H - cy + 5) / H,
                       fillcolor=rgba(CUT_COLORS[cut], 0.5), line=dict(width=0), layer="above"))
    annotations.append(dict(text=cut, x=1145 / W, y=yy, xref="paper", yref="paper",
                            showarrow=False, xanchor="left", yanchor="middle",
                            font=dict(size=30, color="black", family=FONT)))

layout["annotations"] = annotations
layout["shapes"] = shapes
fig.update_layout(**layout)
fig.write_html("out.html", config={"displayModeBar": False},
               post_script="document.body.style.margin='0';document.body.style.overflow='hidden';")
